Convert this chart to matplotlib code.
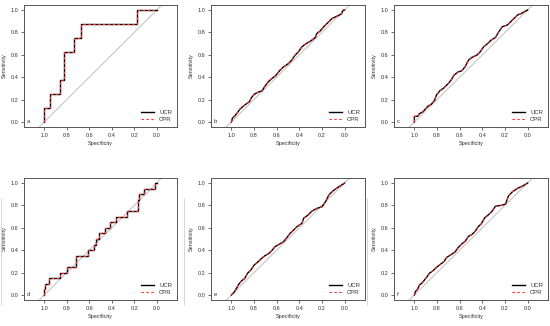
import matplotlib
matplotlib.use("Agg")
from matplotlib import pyplot as plt
from matplotlib.lines import Line2D

plt.rcParams['font.family'] = ['Liberation Sans', 'DejaVu Sans']

# ROC points (specificity, sensitivity)
spec_a = [1.0, 1.0, 0.953, 0.953, 0.862, 0.862, 0.821, 0.821, 0.732, 0.732, 0.671, 0.671, 0.176, 0.176, 0.0]
sens_a = [0.0, 0.125, 0.125, 0.25, 0.25, 0.375, 0.375, 0.625, 0.625, 0.75, 0.75, 0.875, 0.875, 1.0, 1.0]

spec_b = [1.0, 0.991, 0.970, 0.946, 0.925, 0.901, 0.872, 0.842, 0.821, 0.797, 0.767, 0.728, 0.707, 0.678,
          0.648, 0.609, 0.573, 0.543, 0.499, 0.469, 0.439, 0.409, 0.379, 0.340, 0.299, 0.260, 0.245, 0.215,
          0.185, 0.149, 0.110, 0.066, 0.030, 0.012, 0.0]
sens_b = [0.0, 0.033, 0.054, 0.084, 0.114, 0.135, 0.159, 0.180, 0.219, 0.249, 0.264, 0.279, 0.315, 0.354,
          0.384, 0.414, 0.459, 0.489, 0.520, 0.550, 0.595, 0.625, 0.670, 0.700, 0.724, 0.754, 0.790, 0.814,
          0.850, 0.886, 0.925, 0.946, 0.964, 1.0, 1.0]

spec_c = [1.0, 1.0, 0.970, 0.955, 0.925, 0.901, 0.881, 0.851, 0.821, 0.806, 0.776, 0.740, 0.701, 0.672,
          0.651, 0.612, 0.582, 0.552, 0.522, 0.493, 0.448, 0.418, 0.388, 0.352, 0.322, 0.284, 0.254, 0.224,
          0.179, 0.149, 0.119, 0.090, 0.054, 0.030, 0.0]
sens_c = [0.0, 0.05, 0.051, 0.075, 0.090, 0.119, 0.140, 0.158, 0.194, 0.239, 0.278, 0.304, 0.343, 0.379,
          0.418, 0.448, 0.457, 0.493, 0.552, 0.576, 0.597, 0.627, 0.672, 0.701, 0.731, 0.755, 0.806, 0.851,
          0.866, 0.896, 0.925, 0.955, 0.970, 0.985, 1.0]

spec_d = [1.0, 1.0, 0.991, 0.991, 0.961, 0.961, 0.863, 0.863, 0.80, 0.80, 0.714, 0.714, 0.61, 0.61,
          0.557, 0.557, 0.536, 0.536, 0.512, 0.512, 0.461, 0.461, 0.417, 0.417, 0.366, 0.366, 0.268, 0.268,
          0.17, 0.17, 0.155, 0.155, 0.113, 0.113, 0.02, 0.02, 0.0]
sens_d = [0.0, 0.05, 0.05, 0.10, 0.10, 0.15, 0.15, 0.20, 0.20, 0.25, 0.25, 0.35, 0.35, 0.40,
          0.40, 0.45, 0.45, 0.50, 0.50, 0.55, 0.55, 0.60, 0.60, 0.65, 0.65, 0.70, 0.70, 0.75,
          0.75, 0.85, 0.85, 0.90, 0.90, 0.95, 0.95, 1.0, 1.0]

spec_e = [1.0, 0.976, 0.955, 0.935, 0.911, 0.881, 0.858, 0.828, 0.798, 0.763, 0.733, 0.703, 0.668, 0.638,
          0.614, 0.579, 0.540, 0.510, 0.481, 0.451, 0.421, 0.377, 0.362, 0.323, 0.288, 0.243, 0.199, 0.169,
          0.139, 0.104, 0.065, 0.027, 0.0]
sens_e = [0.0, 0.024, 0.060, 0.095, 0.125, 0.149, 0.193, 0.223, 0.268, 0.298, 0.327, 0.351, 0.372, 0.402,
          0.432, 0.452, 0.476, 0.512, 0.551, 0.580, 0.610, 0.640, 0.685, 0.714, 0.750, 0.774, 0.789, 0.833,
          0.893, 0.929, 0.958, 0.982, 1.0]

spec_f = [1.0, 0.991, 0.970, 0.955, 0.934, 0.910, 0.887, 0.866, 0.836, 0.806, 0.776, 0.737, 0.716, 0.678,
          0.642, 0.612, 0.582, 0.552, 0.522, 0.493, 0.463, 0.433, 0.409, 0.379, 0.343, 0.313, 0.284, 0.224,
          0.194, 0.170, 0.134, 0.090, 0.045, 0.0]
sens_f = [0.0, 0.030, 0.054, 0.090, 0.105, 0.135, 0.165, 0.195, 0.216, 0.246, 0.269, 0.299, 0.335, 0.359,
          0.383, 0.425, 0.455, 0.479, 0.524, 0.539, 0.569, 0.614, 0.635, 0.689, 0.719, 0.749, 0.793, 0.802,
          0.814, 0.883, 0.922, 0.952, 0.973, 1.0]

panels = [("a", spec_a, sens_a), ("b", spec_b, sens_b), ("c", spec_c, sens_c),
          ("d", spec_d, sens_d), ("e", spec_e, sens_e), ("f", spec_f, sens_f)]

x_ticks = [1.0, 0.8, 0.6, 0.4, 0.2, 0.0]
y_ticks = [0.0, 0.2, 0.4, 0.6, 0.8, 1.0]
series_names = ["UCR", "CPR"]

W, H = 550, 326
fig = plt.figure(figsize=(W / 100, H / 100), dpi=100)

# axes boxes in pixels: left, right, top, bottom
cols = [(24, 177), (211, 365), (394, 548)]
rows = [(5, 127), (178, 300)]

txt = "#333333"
for i, (letter, spec, sens) in enumerate(panels):
    l, r = cols[i % 3]
    t, b = rows[i // 3]
    ax = fig.add_axes([l / W, 1 - b / H, (r - l) / W, (b - t) / H])
    ax.set_xlim(1.18, -0.18)
    ax.set_ylim(-0.045, 1.045)
    ax.plot([1.2, -0.2], [-0.2, 1.2], color="#cccccc", lw=0.9, zorder=1)
    ax.plot(spec, sens, color="black", lw=1.0, label=series_names[0], zorder=2)
    ax.plot(spec, sens, color="#ff3030", lw=0.8, ls=(0, (2.2, 2.2)), label=series_names[1], zorder=3)
    ax.text(1.155, 0.0, letter, fontsize=4.2, color=txt, ha="left", va="center")
    ax.set_xticks(x_ticks)
    ax.set_xticklabels(["%.1f" % v for v in x_ticks])
    ax.set_yticks(y_ticks)
    ax.set_yticklabels(["%.1f" % v for v in y_ticks])
    ax.tick_params(length=2.2, width=0.6, pad=1.8, labelsize=4.0, colors="#555555", labelcolor=txt)
    for s in ax.spines.values():
        s.set_color("#555555")
        s.set_linewidth(0.7)
    ax.set_xlabel("Specificity", fontsize=4.0, color=txt, labelpad=2.5)
    ax.set_ylabel("Sensitivity", fontsize=4.0, color=txt, labelpad=2.5)
    ax.legend(loc="lower right", frameon=False, fontsize=4.3, handlelength=2.2,
              handletextpad=0.8, labelspacing=0.4, borderaxespad=0.4, labelcolor=txt)

# faint panel edges left over from the composite image
for x in [1, 184, 367]:
    fig.add_artist(Line2D([x / W, x / W], [1 - 305 / H, 1 - 198 / H], color="#d0d0d0", lw=0.6))

fig.savefig("out.png", dpi=100)
